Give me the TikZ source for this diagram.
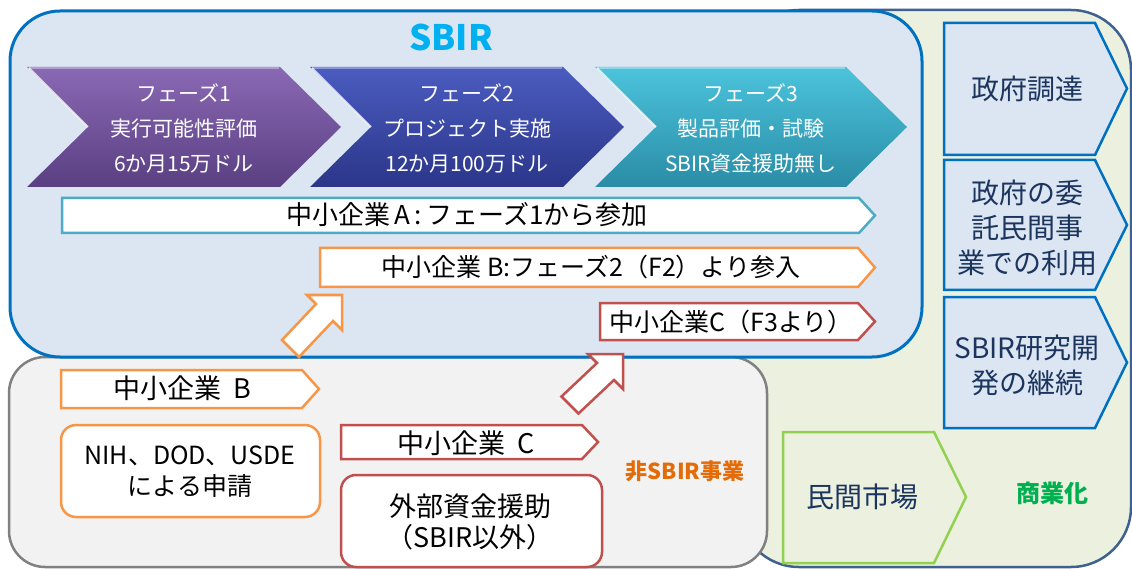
\documentclass[tikz,border=0pt]{standalone}
\usepackage{fontspec}
\setmainfont{Noto Sans CJK JP}
\definecolor{bgGreen}{HTML}{EBF1DE}
\definecolor{bgGreenLine}{HTML}{3F6190}
\definecolor{sbirFill}{HTML}{DCE6F2}
\definecolor{sbirLine}{HTML}{0070C0}
\definecolor{grayFill}{HTML}{F2F2F2}
\definecolor{grayLine}{HTML}{808080}
\definecolor{titleCyan}{HTML}{00B0F0}
\definecolor{pOneTop}{HTML}{8A69B4}
\definecolor{pOneBot}{HTML}{5A3F82}
\definecolor{pTwoTop}{HTML}{4B5CC0}
\definecolor{pTwoBot}{HTML}{2B3689}
\definecolor{pThreeTop}{HTML}{4CC3DC}
\definecolor{pThreeBot}{HTML}{2A8CA6}
\definecolor{coA}{HTML}{4BACC6}
\definecolor{coB}{HTML}{F79646}
\definecolor{coC}{HTML}{C0504D}
\definecolor{navyText}{HTML}{1C355E}
\definecolor{mktLine}{HTML}{92D050}
\definecolor{nonSbir}{HTML}{E36C09}
\definecolor{commGreen}{HTML}{00B050}
\tikzset{
  panel/.style={line width=2.5pt, rounded corners=#1},
  phasetxt/.style={text=white, align=center, inner sep=0pt, font=\fontsize{21}{35}\selectfont},
  coarrow/.style={fill=white, line width=2.5pt, line join=miter},
  colabel/.style={inner sep=0pt, font=\fontsize{25}{30}\selectfont},
  graylabel/.style={inner sep=0pt, align=center, font=\fontsize{27}{31}\selectfont},
  rightbox/.style={fill=sbirFill, draw=sbirLine, line width=2.5pt, line join=miter},
  righttxt/.style={text=navyText, align=center, inner sep=0pt, font=\fontsize{28}{35}\selectfont},
  blockarrow/.style={fill=white, line width=2.5pt, line join=miter},
  gloss/.style={white, opacity=0.75, line width=2pt}
}
\begin{document}
\begin{tikzpicture}[x=1pt,y=-1pt]
\useasboundingbox (0,0) rectangle (1132,569);
% background panels
\path[panel=60, fill=bgGreen, draw=bgGreenLine] (739,10) rectangle (1131,567);
\path[panel=36, fill=grayFill, draw=grayLine] (9,357) rectangle (767,567);
\path[panel=50, fill=sbirFill, draw=sbirLine, line width=3pt] (10,11) rectangle (922,357);
\node[text=titleCyan, inner sep=0pt, font=\fontsize{35}{40}\selectfont\bfseries] (title) at (451,37) {SBIR};
% phases
\path[top color=pOneTop, bottom color=pOneBot] (27,67) -- (280,67) -- (341,127) -- (280,187) -- (27,187) -- (88,127) -- cycle;
\path[top color=pTwoTop, bottom color=pTwoBot] (310,67) -- (563,67) -- (624,127) -- (563,187) -- (310,187) -- (371,127) -- cycle;
\path[top color=pThreeTop, bottom color=pThreeBot] (595,67) -- (846,67) -- (907,127) -- (846,187) -- (595,187) -- (656,127) -- cycle;
\draw[gloss] (29,68) -- (88,127);
\draw[gloss] (312,68) -- (371,127);
\draw[gloss] (597,68) -- (656,127);
\draw[white, opacity=0.35, line width=1.5pt] (29,68) -- (279,68) (312,68) -- (562,68) (597,68) -- (845,68);
\node[phasetxt] (ph1) at (184,128) {フェーズ1\\実行可能性評価\\6か月15万ドル};
\node[phasetxt] (ph2) at (467,128) {フェーズ2\\プロジェクト実施\\12か月100万ドル};
\node[phasetxt] (ph3) at (751,128) {フェーズ3\\製品評価・試験\\SBIR資金援助無し};
% company arrows in SBIR
\draw[coarrow, draw=coA] (62,198) -- (859,198) -- (875,215.5) -- (859,233) -- (62,233) -- cycle;
\node[colabel, font=\fontsize{26}{30}\selectfont] (coAlab) at (467,215) {中小企業\,A\,:\,フェーズ1から参加};
\draw[coarrow, draw=coB] (320,248) -- (858,248) -- (875,267.5) -- (858,287) -- (320,287) -- cycle;
\node[colabel] (coBlab) at (591,267) {中小企業 B:フェーズ2（F2）より参入};
\draw[coarrow, draw=coC] (600,303) -- (858,303) -- (875,321.5) -- (858,340) -- (600,340) -- cycle;
\node[colabel] (coClab) at (731,322) {中小企業C（F3より）};
% non-SBIR contents
\draw[coarrow, draw=coB] (61,370) -- (302,370) -- (319,389) -- (302,408) -- (61,408) -- cycle;
\node[graylabel] (gB) at (182,388) {中小企業\ \ B};
\draw[coarrow, draw=coB, rounded corners=15pt] (61,425) rectangle (320,517);
\node[graylabel, font=\fontsize{25}{31}\selectfont] (nih) at (190,472) {NIH、DOD、USDE\\による申請};
\draw[coarrow, draw=coC] (341,425) -- (582,425) -- (598,442) -- (582,459) -- (341,459) -- cycle;
\node[graylabel] (gC) at (466,443) {中小企業\ \ C};
\draw[coarrow, draw=coC, rounded corners=15pt] (341,475) rectangle (602,567);
\node[graylabel] (ext) at (470,522) {外部資金援助\\（SBIR以外）};
\node[text=nonSbir, inner sep=0pt, font=\fontsize{22}{26}\selectfont\bfseries] (nonlab) at (685,471) {非SBIR事業};
% block arrows
\draw[blockarrow, draw=coB] (342,295) -- (342,330) -- (333,321) -- (299,357) -- (282,340) -- (316,304) -- (307,295) -- cycle;
\draw[blockarrow, draw=coC] (623,354) -- (623,389) -- (614,380) -- (578.5,413.5) -- (561.5,396.5) -- (597,363) -- (588,354) -- cycle;
% right side
\draw[rightbox] (944,23) -- (1095,23) -- (1127,88.5) -- (1095,155) -- (944,155) -- cycle;
\node[righttxt] (gov) at (1027,89) {政府調達};
\draw[rightbox] (944,160) -- (1095,160) -- (1127,225) -- (1095,290) -- (944,290) -- cycle;
\node[righttxt] (gov2) at (1027,228) {政府の委\\託民間事\\業での利用};
\draw[rightbox] (944,297) -- (1095,297) -- (1127,362.5) -- (1095,428) -- (944,428) -- cycle;
\node[righttxt] (cont) at (1027,365) {SBIR研究開\\発の継続};
\draw[fill=bgGreen, draw=mktLine, line width=2.5pt, line join=miter] (783,432) -- (934,432) -- (966,497) -- (934,563) -- (783,563) -- cycle;
\node[righttxt] (mkt) at (862,497) {民間市場};
\node[text=commGreen, inner sep=0pt, font=\fontsize{24}{28}\selectfont\bfseries] (comm) at (1052,493) {商業化};
\end{tikzpicture}
\end{document}
